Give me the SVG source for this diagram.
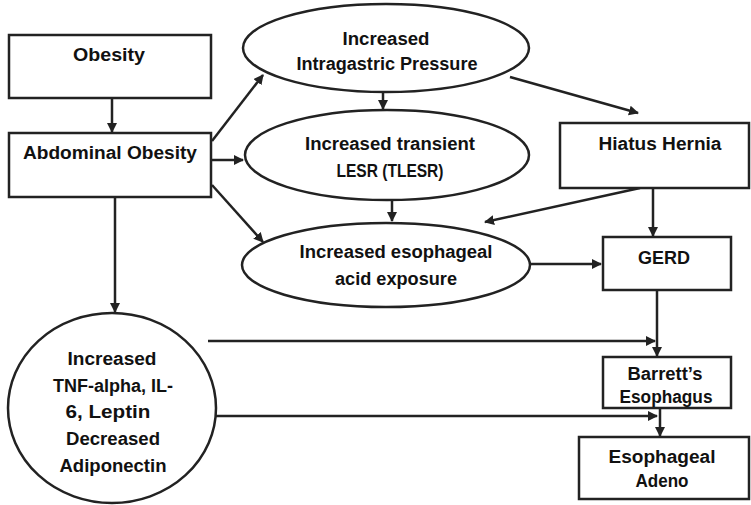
<svg xmlns="http://www.w3.org/2000/svg" width="751" height="505" viewBox="0 0 751 505">
<defs>
<marker id="ah" viewBox="0 0 10 10" refX="9" refY="5" markerWidth="4" markerHeight="4" orient="auto" markerUnits="strokeWidth">
<path d="M0,0 L10,5 L0,10 z" fill="#222"/>
</marker>
<style>
.box{fill:#fff;stroke:#222;stroke-width:2.5}
.t{font-family:"Liberation Sans",Arial,sans-serif;font-weight:bold;font-size:18px;fill:#111;text-anchor:middle}
.c{fill:none;stroke:#222;stroke-width:2.5;marker-end:url(#ah)}
</style>
</defs>
<rect width="751" height="505" fill="#fff"/>
<g id="connectors">
<line class="c" x1="112" y1="99" x2="112" y2="132"/>
<line class="c" x1="212" y1="141" x2="263" y2="75"/>
<line class="c" x1="212" y1="160" x2="243" y2="160"/>
<line class="c" x1="212" y1="185" x2="263" y2="242"/>
<line class="c" x1="115" y1="197" x2="115" y2="312"/>
<line class="c" x1="383" y1="92" x2="383" y2="109"/>
<line class="c" x1="510" y1="77" x2="638" y2="113"/>
<line class="c" x1="392" y1="200" x2="392" y2="221"/>
<line class="c" x1="640" y1="188" x2="485" y2="222"/>
<line class="c" x1="653" y1="188" x2="653" y2="236"/>
<line class="c" x1="530" y1="264" x2="601" y2="264"/>
<line class="c" x1="657" y1="290" x2="657" y2="356"/>
<line class="c" x1="208" y1="341" x2="655" y2="341"/>
<line class="c" x1="213" y1="416" x2="657" y2="416"/>
<line class="c" x1="660" y1="408" x2="660" y2="436"/>
</g>
<g id="obesity">
<rect class="box" x="9" y="35" width="202" height="63"/>
<text class="t" x="109" y="61" textLength="72" lengthAdjust="spacingAndGlyphs">Obesity</text>
</g>
<g id="abdominal">
<rect class="box" x="9" y="133" width="202" height="64"/>
<text class="t" x="110" y="159" textLength="174" lengthAdjust="spacingAndGlyphs">Abdominal Obesity</text>
</g>
<g id="pressure">
<ellipse class="box" cx="386" cy="48" rx="143" ry="44"/>
<text class="t" x="386" y="45" textLength="87" lengthAdjust="spacingAndGlyphs">Increased</text>
<text class="t" x="387" y="70" textLength="181" lengthAdjust="spacingAndGlyphs">Intragastric Pressure</text>
</g>
<g id="tlesr">
<ellipse class="box" cx="387" cy="155" rx="142" ry="45"/>
<text class="t" x="390" y="150" textLength="170" lengthAdjust="spacingAndGlyphs">Increased transient</text>
<text class="t" x="390" y="177" textLength="107" lengthAdjust="spacingAndGlyphs">LESR (TLESR)</text>
</g>
<g id="acid">
<ellipse class="box" cx="386" cy="265" rx="144" ry="42"/>
<text class="t" x="396" y="258" textLength="193" lengthAdjust="spacingAndGlyphs">Increased esophageal</text>
<text class="t" x="396" y="285" textLength="122" lengthAdjust="spacingAndGlyphs">acid exposure</text>
</g>
<g id="hiatus">
<rect class="box" x="560" y="123" width="189" height="65"/>
<text class="t" x="660" y="150" textLength="123" lengthAdjust="spacingAndGlyphs">Hiatus Hernia</text>
</g>
<g id="gerd">
<rect class="box" x="603" y="237" width="128" height="53"/>
<text class="t" x="664" y="264" textLength="52" lengthAdjust="spacingAndGlyphs">GERD</text>
</g>
<g id="barretts">
<rect class="box" x="603" y="357" width="128" height="51"/>
<text class="t" x="665" y="380" textLength="75" lengthAdjust="spacingAndGlyphs">Barrett’s</text>
<text class="t" x="666" y="403" textLength="93" lengthAdjust="spacingAndGlyphs">Esophagus</text>
</g>
<g id="adeno">
<rect class="box" x="579" y="437" width="170" height="62"/>
<text class="t" x="662" y="463" textLength="107" lengthAdjust="spacingAndGlyphs">Esophageal</text>
<text class="t" x="662" y="487" textLength="53" lengthAdjust="spacingAndGlyphs">Adeno</text>
</g>
<g id="cytokines">
<ellipse class="box" cx="112" cy="408" rx="104" ry="95"/>
<text class="t" x="112" y="365" textLength="89" lengthAdjust="spacingAndGlyphs">Increased</text>
<text class="t" x="113" y="392" textLength="120" lengthAdjust="spacingAndGlyphs">TNF-alpha, IL-</text>
<text class="t" x="108" y="418" textLength="85" lengthAdjust="spacingAndGlyphs">6, Leptin</text>
<text class="t" x="113" y="445" textLength="94" lengthAdjust="spacingAndGlyphs">Decreased</text>
<text class="t" x="113" y="472" textLength="107" lengthAdjust="spacingAndGlyphs">Adiponectin</text>
</g>
</svg>
